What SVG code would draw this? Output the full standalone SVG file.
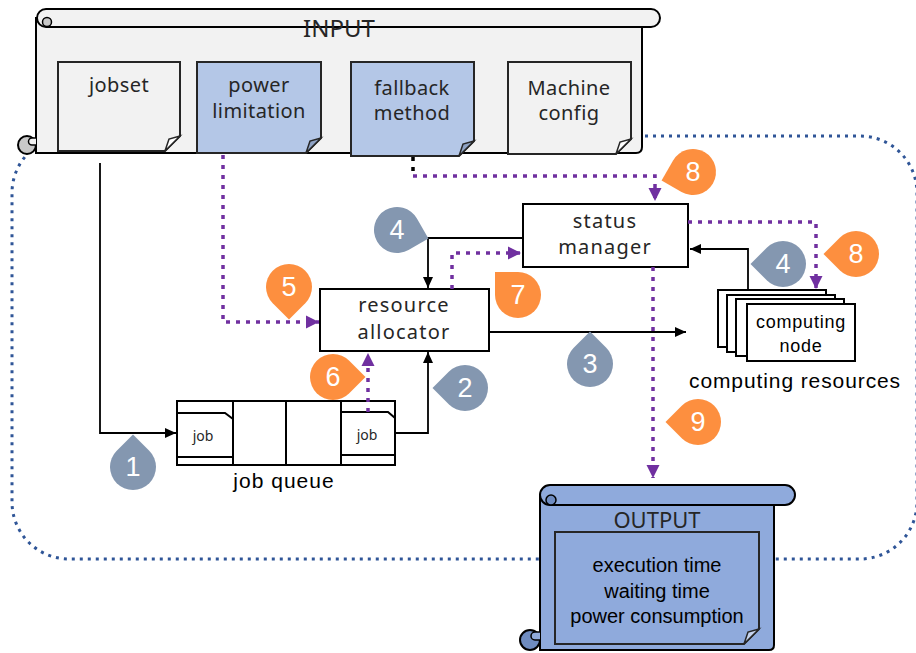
<svg xmlns="http://www.w3.org/2000/svg" xmlns:xlink="http://www.w3.org/1999/xlink" width="916" height="653" viewBox="0 0 916 653">
<style>
.jp{font-family:"Noto Sans","DejaVu Sans",sans-serif;fill:#262626;text-anchor:middle}
.ar{font-family:"Liberation Sans",Arial,sans-serif;fill:#000;text-anchor:middle}
.num{font-family:"Liberation Sans",Arial,sans-serif;fill:#fff;font-size:27px;text-anchor:middle}
.ln{fill:none;stroke:#000;stroke-width:1.8}
.pu{fill:none;stroke:#7030a0;stroke-width:3.5;stroke-dasharray:4 6}
.box{fill:#fff;stroke:#000;stroke-width:2}
.docg{fill:#f2f2f2;stroke:#262626;stroke-width:2}
.docb{fill:#b4c7e7;stroke:#262626;stroke-width:2}
.gray{fill:#8497b0}
.orng{fill:#fd8f3f}
</style>
<defs>
<marker id="ab" markerUnits="userSpaceOnUse" markerWidth="12" markerHeight="12" viewBox="0 0 12 12" refX="11" refY="6" orient="auto"><path d="M0,1 L11,6 L0,11 Z" fill="#000"/></marker>
<marker id="ap" markerUnits="userSpaceOnUse" markerWidth="14" markerHeight="14" viewBox="0 0 14 14" refX="13" refY="7" orient="auto"><path d="M0,0.5 L13,7 L0,13.5 Z" fill="#7030a0"/></marker>
<path id="drop" d="M0,-23 L23,-23 L23,0 A23,23 0 1 1 0,-23 Z"/>
</defs>

<rect id="simulator-region" x="12" y="136" width="905" height="423" rx="57" fill="none" stroke="#2f5597" stroke-width="3" stroke-dasharray="3 5"/>

<g id="input">
<path d="M36,18 V153 H636 Q642,153 642,147 V18 Z" fill="#f2f2f2" stroke="#000" stroke-width="2"/>
<path d="M46,9 H651 A9,9 0 0 1 651,27 H46 A9,9 0 0 1 46,9 Z" fill="#f2f2f2" stroke="#000" stroke-width="2"/>
<circle cx="47" cy="22" r="4.5" fill="#c8c8c8" stroke="#000" stroke-width="1.5"/>
<circle cx="27" cy="145" r="9" fill="#c8c8c8" stroke="#000" stroke-width="2"/>
<path d="M36,138 H32 A3.5,3.5 0 0 0 32,145 H36" fill="#f2f2f2" stroke="#000" stroke-width="1.5"/>
<text class="jp" x="339" y="37" font-size="24">INPUT</text>
</g>

<g id="jobset">
<path class="docg" d="M58,62 H180 V136 L165,151 H58 Z"/>
<path d="M180,136 L165,151 L169,139 Z" fill="#fff" stroke="#262626" stroke-width="1.5"/>
<text class="jp" x="119" y="92" font-size="20" letter-spacing="0.4">jobset</text>
</g>
<g id="power-limitation">
<path class="docb" d="M197,62 H321 V138 L306,153 H197 Z"/>
<path d="M321,138 L306,153 L310,141 Z" fill="#8ea2c4" stroke="#262626" stroke-width="1.5"/>
<text class="jp" x="259" y="92" font-size="20" letter-spacing="0.4">power</text>
<text class="jp" x="259" y="118" font-size="20" letter-spacing="0.4">limitation</text>
</g>
<g id="fallback-method">
<path class="docb" d="M351,62 H474 V141 L459,156 H351 Z"/>
<path d="M474,141 L459,156 L463,144 Z" fill="#8ea2c4" stroke="#262626" stroke-width="1.5"/>
<text class="jp" x="412" y="95" font-size="20" letter-spacing="0.4">fallback</text>
<text class="jp" x="412" y="120" font-size="20" letter-spacing="0.4">method</text>
</g>
<g id="machine-config">
<path class="docg" d="M508,62 H631 V139 L616,154 H508 Z"/>
<path d="M631,139 L616,154 L620,142 Z" fill="#fff" stroke="#262626" stroke-width="1.5"/>
<text class="jp" x="569" y="95" font-size="20" letter-spacing="0.4">Machine</text>
<text class="jp" x="569" y="120" font-size="20" letter-spacing="0.4">config</text>
</g>

<g id="output">
<path d="M540,495 V650 H769 Q774,650 774,645 V495 Z" fill="#8faadc" stroke="#000" stroke-width="2"/>
<path d="M550,485 H785 A10,10 0 0 1 785,505 H550 A10,10 0 0 1 550,485 Z" fill="#8faadc" stroke="#000" stroke-width="2"/>
<circle cx="551" cy="500" r="5" fill="#6f8cc0" stroke="#000" stroke-width="1.5"/>
<circle cx="530" cy="640" r="10" fill="#6f8cc0" stroke="#000" stroke-width="2"/>
<path d="M540,632 H535 A4,4 0 0 0 535,640 H540" fill="#8faadc" stroke="#000" stroke-width="1.5"/>
<path d="M555,532 H759 V629 L744,644 H555 Z" fill="#8faadc" stroke="#262626" stroke-width="2"/>
<path d="M759,629 L744,644 L748,632 Z" fill="#c5d3ee" stroke="#262626" stroke-width="1.5"/>
<text class="jp" x="657" y="528" font-size="22">OUTPUT</text>
<text class="ar" x="657" y="572" font-size="20">execution time</text>
<text class="ar" x="657" y="598" font-size="20">waiting time</text>
<text class="ar" x="657" y="623" font-size="20">power consumption</text>
</g>

<g id="status-manager">
<rect class="box" x="523" y="204" width="165" height="63"/>
<text class="jp" x="605" y="228" font-size="20" letter-spacing="1.2">status</text>
<text class="jp" x="605" y="254" font-size="20" letter-spacing="1.2">manager</text>
</g>

<g id="resource-allocator">
<rect class="box" x="320" y="289" width="169" height="62"/>
<text class="jp" x="404" y="312" font-size="20" letter-spacing="1.2">resource</text>
<text class="jp" x="404" y="339" font-size="20" letter-spacing="1.2">allocator</text>
</g>

<g id="job-queue">
<rect class="box" x="177" y="401" width="218" height="64"/>
<line x1="233" y1="401" x2="233" y2="465" stroke="#000" stroke-width="2"/>
<line x1="286" y1="401" x2="286" y2="465" stroke="#000" stroke-width="2"/>
<line x1="341" y1="401" x2="341" y2="465" stroke="#000" stroke-width="2"/>
<path d="M177,413 H225 L233,419 V457 H177 Z" fill="#fff" stroke="#000" stroke-width="2"/>
<path d="M341,412 H388 L395,418 V455 H341 Z" fill="#fff" stroke="#000" stroke-width="2"/>
<text class="jp" x="203" y="441" font-size="14">job</text>
<text class="jp" x="367" y="440" font-size="14">job</text>
<text class="ar" x="284" y="488" font-size="21" letter-spacing="1">job queue</text>
</g>

<g id="computing-resources">
<rect class="box" x="718" y="290" width="108" height="57"/>
<rect class="box" x="727" y="295" width="108" height="57"/>
<rect class="box" x="736" y="299" width="108" height="57"/>
<rect class="box" x="747" y="304" width="108" height="57"/>
<text class="ar" x="801" y="328" font-size="18" letter-spacing="0.8">computing</text>
<text class="ar" x="801" y="352" font-size="18" letter-spacing="0.8">node</text>
<text class="ar" x="795" y="388" font-size="21" letter-spacing="0.9">computing resources</text>
</g>

<g id="connectors">
<path class="ln" d="M100,163 V433 H176" marker-end="url(#ab)"/>
<path class="ln" d="M395,433 H428 V352" marker-end="url(#ab)"/>
<path class="ln" d="M523,238 H428 V288" marker-end="url(#ab)"/>
<path class="ln" d="M489,332 H686" marker-end="url(#ab)"/>
<path class="ln" d="M748,290 V249 H690" marker-end="url(#ab)"/>
<path d="M413,157 V172" fill="none" stroke="#000" stroke-width="3.5" stroke-dasharray="4 6"/>
<path class="pu" d="M413,176 H655 V201" marker-end="url(#ap)"/>
<path class="pu" d="M223,155 V322 H319" marker-end="url(#ap)"/>
<path class="pu" d="M368,412 V353" marker-end="url(#ap)"/>
<path class="pu" d="M452,289 V253 H521" marker-end="url(#ap)"/>
<path class="pu" d="M688,222 H816 V289" marker-end="url(#ap)"/>
<path class="pu" d="M653,267 V478" marker-end="url(#ap)"/>
</g>

<g id="markers">
<use xlink:href="#drop" class="gray" transform="translate(133,467) rotate(-45)"/>
<text class="num" x="133" y="476">1</text>
<use xlink:href="#drop" class="gray" transform="translate(465,388) rotate(225)"/>
<text class="num" x="465" y="397">2</text>
<use xlink:href="#drop" class="gray" transform="translate(590,364) rotate(-45)"/>
<text class="num" x="590" y="373">3</text>
<use xlink:href="#drop" class="gray" transform="translate(397,230) rotate(60)"/>
<text class="num" x="397" y="239">4</text>
<use xlink:href="#drop" class="gray" transform="translate(783,264) rotate(225)"/>
<text class="num" x="783" y="273">4</text>
<use xlink:href="#drop" class="orng" transform="translate(289,287) rotate(135)"/>
<text class="num" x="289" y="296">5</text>
<use xlink:href="#drop" class="orng" transform="translate(333,377) rotate(45)"/>
<text class="num" x="333" y="386">6</text>
<use xlink:href="#drop" class="orng" transform="translate(518,295) rotate(-90)"/>
<text class="num" x="518" y="304">7</text>
<use xlink:href="#drop" class="orng" transform="translate(693,172) rotate(210)"/>
<text class="num" x="693" y="181">8</text>
<use xlink:href="#drop" class="orng" transform="translate(856,254) rotate(225)"/>
<text class="num" x="856" y="263">8</text>
<use xlink:href="#drop" class="orng" transform="translate(698,422) rotate(225)"/>
<text class="num" x="698" y="431">9</text>
</g>
</svg>
